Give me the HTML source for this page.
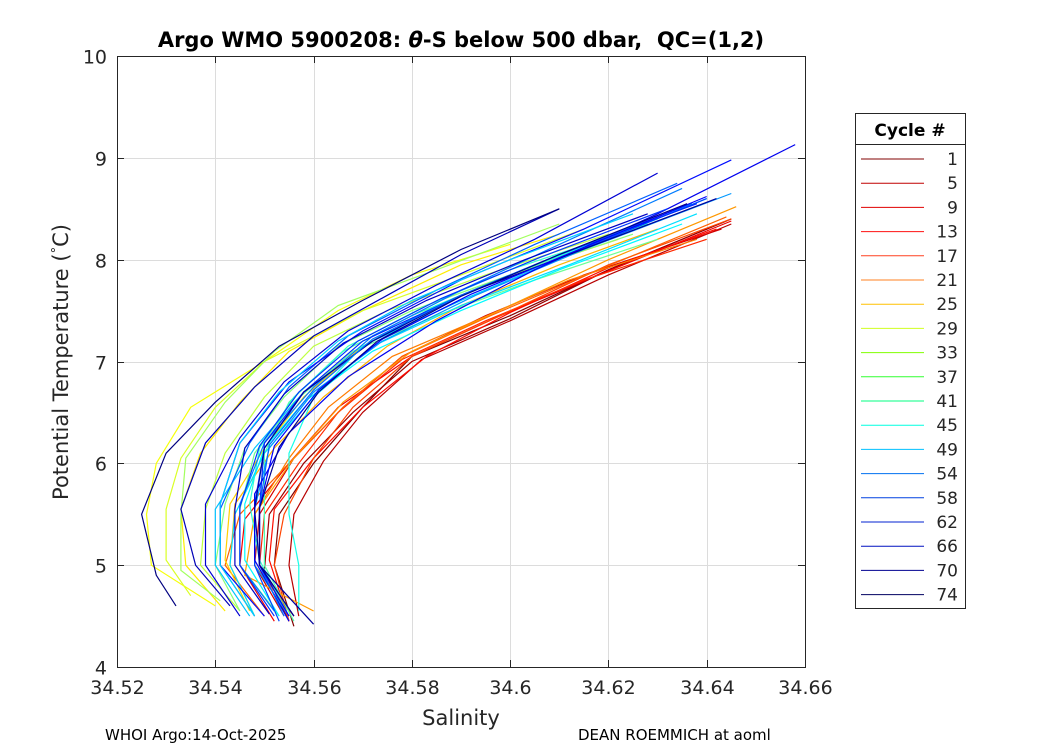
<!DOCTYPE html>
<html><head><meta charset="utf-8"><style>
body{margin:0;background:#fff;width:1050px;height:750px;overflow:hidden;font-family:"Liberation Sans",sans-serif}
</style></head><body>
<svg id="chart" width="1050" height="750" style="font-family:'DejaVu Sans','Liberation Sans',sans-serif">
<rect x="0" y="0" width="1050" height="750" fill="#fff"/>
<rect x="117" y="56" width="688" height="611" fill="#fff"/>
<g id="grid"></g>
<g id="lines"></g>
<g id="axes"></g>
<text x="461" y="47" font-size="21" font-weight="bold" text-anchor="middle">Argo WMO 5900208: <tspan font-style="italic">θ</tspan>-S below 500 dbar,&#160; QC=(1,2)</text>
<text x="461" y="725" font-size="21" text-anchor="middle" fill="#262626">Salinity</text>
<text transform="translate(68,362) rotate(-90)" font-size="21" text-anchor="middle" fill="#262626">Potential Temperature (<tspan baseline-shift="super" font-size="13">°</tspan>C)</text>
<text x="105" y="740" font-size="15">WHOI Argo:14-Oct-2025</text>
<text x="578" y="740" font-size="15">DEAN ROEMMICH at aoml</text>
<g id="legend">
<rect x="855.5" y="113.5" width="110" height="495" fill="#fff" stroke="#262626"/>
<line x1="855.5" y1="144.5" x2="965.5" y2="144.5" stroke="#262626"/>
<text x="910" y="136" font-size="17" font-weight="bold" text-anchor="middle">Cycle #</text>
</g>
</svg>
<script>
const xTicks=[34.52,34.54,34.56,34.58,34.6,34.62,34.64,34.66];
const yTicks=[4,5,6,7,8,9,10];
const legendCycles=[1,5,9,13,17,21,25,29,33,37,41,45,49,54,58,62,66,70,74];
const legendColors=["#800000","#c00000","#e00000","#ff1010","#ff4020","#ff8020","#ffc000","#d0ff20","#80ff00","#30ff30","#00ff80","#00ffe0","#00c0ff","#0070f0","#0040e0","#0020d0","#0010c0","#000090","#000060"];
const profCycles=[1,3,5,7,9,11,13,15,17,19,21,23,25,27,29,31,33,35,37,39,41,43,45,47,49,51,54,56,58,60,62,64,66,68,70,72,74,50,57,61,65,69,73];
const profSal=[
[34.645,34.62,34.60,34.58,34.57,34.56,34.553,34.552,34.556],
[34.644,34.62,34.60,34.58,34.568,34.558,34.551,34.55,34.555],
[34.645,34.62,34.60,34.582,34.57,34.562,34.556,34.555,34.557],
[34.643,34.615,34.595,34.578,34.566,34.556,34.549,34.548,34.554],
[34.645,34.618,34.598,34.58,34.565,34.555,34.546,34.545,34.552],
[34.642,34.62,34.60,34.583,34.57,34.56,34.552,34.551,34.555],
[34.64,34.615,34.595,34.578,34.565,34.557,34.55,34.549,34.556],
[34.645,34.62,34.598,34.58,34.568,34.56,34.554,34.552,34.555],
[34.644,34.618,34.596,34.578,34.566,34.555,34.545,34.542,34.55],
[34.638,34.612,34.593,34.576,34.563,34.555,34.548,34.548,34.556],
[34.646,34.62,34.60,34.58,34.566,34.556,34.548,34.546,34.56],
[34.63,34.61,34.59,34.575,34.562,34.552,34.544,34.543,34.548],
[34.622,34.60,34.585,34.57,34.558,34.55,34.543,34.542,34.547],
[34.61,34.59,34.57,34.555,34.545,34.537,34.533,34.534,34.542],
[34.60,34.58,34.565,34.55,34.535,34.528,34.526,34.527,34.54],
[34.615,34.59,34.57,34.55,34.54,34.533,34.53,34.53,34.535],
[34.62,34.595,34.575,34.56,34.55,34.542,34.538,34.537,34.545],
[34.61,34.585,34.565,34.552,34.542,34.534,34.533,34.533,34.541],
[34.625,34.60,34.58,34.565,34.554,34.546,34.542,34.54,34.545],
[34.63,34.605,34.585,34.568,34.556,34.548,34.545,34.545,34.553],
[34.625,34.60,34.58,34.566,34.555,34.55,34.55,34.55,34.556],
[34.628,34.60,34.583,34.567,34.556,34.549,34.547,34.549,34.555],
[34.63,34.605,34.585,34.57,34.56,34.555,34.555,34.557,34.557],
[34.635,34.61,34.59,34.572,34.558,34.55,34.546,34.546,34.553],
[34.638,34.612,34.59,34.572,34.56,34.55,34.544,34.543,34.548],
[34.64,34.612,34.59,34.572,34.558,34.548,34.54,34.54,34.547],
[34.645,34.615,34.593,34.574,34.56,34.551,34.548,34.548,34.555],
[34.635,34.61,34.59,34.572,34.56,34.55,34.545,34.545,34.552],
[34.634,34.605,34.585,34.567,34.555,34.547,34.541,34.541,34.548],
[34.64,34.612,34.59,34.572,34.558,34.55,34.548,34.548,34.553],
[34.638,34.61,34.59,34.57,34.558,34.55,34.549,34.549,34.556],
[34.645,34.615,34.59,34.57,34.555,34.545,34.541,34.541,34.55],
[34.658,34.63,34.605,34.585,34.567,34.555,34.548,34.548,34.555],
[34.63,34.605,34.585,34.567,34.554,34.545,34.538,34.538,34.545],
[34.61,34.59,34.575,34.56,34.548,34.538,34.533,34.536,34.543],
[34.642,34.612,34.59,34.572,34.558,34.55,34.548,34.549,34.56],
[34.61,34.59,34.57,34.553,34.54,34.53,34.525,34.528,34.532],
[34.625,34.60,34.58,34.565,34.553,34.545,34.541,34.541,34.548],
[34.637,34.61,34.59,34.572,34.56,34.551,34.549,34.549,34.554],
[34.632,34.606,34.586,34.569,34.557,34.549,34.545,34.545,34.552],
[34.64,34.613,34.592,34.574,34.561,34.552,34.549,34.549,34.555],
[34.628,34.603,34.583,34.566,34.554,34.546,34.544,34.544,34.551],
[34.636,34.61,34.59,34.573,34.561,34.553,34.549,34.549,34.556]];
const profTemp=[
[8.4,7.9,7.45,7.05,6.55,6.0,5.5,5.0,4.4],
[8.38,7.9,7.42,7.0,6.5,6.0,5.5,4.95,4.45],
[8.35,7.85,7.4,7.02,6.5,6.02,5.5,5.0,4.5],
[8.3,7.85,7.45,7.05,6.55,6.05,5.5,5.0,4.5],
[8.38,7.85,7.45,7.05,6.55,6.0,5.45,5.0,4.45],
[8.3,7.92,7.48,7.05,6.55,6.05,5.55,5.05,4.45],
[8.2,7.8,7.4,7.02,6.5,6.0,5.5,5.0,4.5],
[8.4,7.95,7.45,7.05,6.55,6.05,5.5,5.0,4.45],
[8.42,7.9,7.45,7.05,6.55,6.0,5.5,5.0,4.5],
[8.2,7.8,7.4,7.05,6.55,6.05,5.5,5.0,4.5],
[8.52,8.0,7.55,7.1,6.6,6.05,5.5,4.9,4.55],
[8.3,7.95,7.55,7.15,6.65,6.15,5.6,5.0,4.5],
[8.2,7.85,7.55,7.15,6.65,6.15,5.6,5.05,4.55],
[8.25,7.95,7.5,7.1,6.6,6.1,5.55,5.0,4.55],
[8.15,7.85,7.5,7.0,6.55,6.0,5.5,5.0,4.6],
[8.3,7.85,7.5,7.0,6.55,6.05,5.55,5.05,4.7],
[8.25,7.85,7.5,7.15,6.65,6.1,5.55,5.0,4.55],
[8.35,7.9,7.55,7.1,6.6,6.05,5.5,4.95,4.65],
[8.25,7.85,7.5,7.15,6.65,6.15,5.6,5.0,4.55],
[8.2,7.8,7.45,7.1,6.6,6.1,5.55,5.0,4.5],
[8.3,7.85,7.45,7.1,6.6,6.1,5.5,5.0,4.45],
[8.35,7.9,7.55,7.15,6.65,6.15,5.6,5.05,4.5],
[8.4,7.95,7.55,7.15,6.65,6.1,5.5,5.0,4.55],
[8.35,7.9,7.5,7.1,6.6,6.15,5.6,5.05,4.5],
[8.45,7.95,7.55,7.15,6.65,6.1,5.5,5.0,4.5],
[8.6,8.05,7.6,7.2,6.7,6.15,5.55,5.0,4.5],
[8.65,8.1,7.65,7.2,6.7,6.15,5.55,5.0,4.5],
[8.7,8.15,7.7,7.25,6.75,6.2,5.6,5.0,4.55],
[8.75,8.15,7.7,7.25,6.75,6.2,5.55,5.0,4.5],
[8.6,8.05,7.65,7.2,6.7,6.15,5.6,5.0,4.45],
[8.55,8.05,7.65,7.2,6.7,6.2,5.55,5.0,4.5],
[8.98,8.3,7.8,7.3,6.8,6.2,5.6,5.0,4.5],
[9.13,8.45,7.9,7.4,6.85,6.3,5.7,5.05,4.45],
[8.85,8.2,7.75,7.3,6.8,6.25,5.6,5.0,4.5],
[8.5,8.05,7.65,7.25,6.75,6.2,5.55,5.0,4.6],
[8.6,8.05,7.65,7.2,6.7,6.15,5.55,5.0,4.42],
[8.5,8.1,7.6,7.15,6.6,6.1,5.5,4.9,4.6],
[8.45,8.0,7.6,7.2,6.7,6.2,5.6,5.0,4.5],
[8.55,8.05,7.65,7.22,6.72,6.18,5.57,5.0,4.5],
[8.5,8.02,7.62,7.2,6.7,6.17,5.57,5.0,4.5],
[8.62,8.08,7.66,7.22,6.72,6.17,5.56,5.0,4.5],
[8.45,8.0,7.6,7.18,6.68,6.15,5.55,5.0,4.52],
[8.55,8.05,7.64,7.2,6.7,6.16,5.56,5.0,4.5]];
const S0=34.52,S1=34.66,T0=4,T1=10,X0=117,X1=805,Y0=667,Y1=56;
const xs=s=>X0+(s-S0)/(S1-S0)*(X1-X0);
const ys=t=>Y0-(t-T0)/(T1-T0)*(Y0-Y1);
function jet(c){const v=(c-1)/73;const f=x=>Math.round(255*Math.max(0,Math.min(1,x)));
return `rgb(${f(1.5-Math.abs(4*(1-v)-3))},${f(1.5-Math.abs(4*(1-v)-2))},${f(1.5-Math.abs(4*(1-v)-1))})`;}
const NS='http://www.w3.org/2000/svg';
function mk(tag,attrs,parent){const e=document.createElementNS(NS,tag);for(const k in attrs)e.setAttribute(k,attrs[k]);parent.appendChild(e);return e;}
const grid=document.getElementById('grid'),axes=document.getElementById('axes'),lines=document.getElementById('lines'),legend=document.getElementById('legend');
xTicks.forEach(v=>{const x=Math.round(xs(v))+0.5;
const g=mk('line',{x1:x,x2:x,y1:Y1,y2:Y0,stroke:'#dcdcdc'},grid);


const t=mk('text',{x:x,y:Y0+27,'font-size':19,'text-anchor':'middle',fill:'#262626'},axes);t.textContent=String(v);


mk('line',{x1:x,x2:x,y1:Y0,y2:Y0-7,stroke:'#262626'},axes);mk('line',{x1:x,x2:x,y1:Y1,y2:Y1+7,stroke:'#262626'},axes);});
yTicks.forEach(v=>{const y=Math.round(ys(v))+0.5;
const g=mk('line',{x1:X0,x2:X1,y1:y,y2:y,stroke:'#dcdcdc'},grid);


const t=mk('text',{x:X0-10,y:y+7,'font-size':19,'text-anchor':'end',fill:'#262626'},axes);t.textContent=String(v);


mk('line',{x1:X0,x2:X0+7,y1:y,y2:y,stroke:'#262626'},axes);mk('line',{x1:X1,x2:X1-7,y1:y,y2:y,stroke:'#262626'},axes);});
const box=mk('rect',{x:X0+0.5,y:Y1+0.5,width:X1-X0,height:Y0-Y1,fill:'none',stroke:'#262626'},axes);


profSal.forEach((sal,i)=>{const pts=sal.map((s,j)=>xs(s).toFixed(1)+','+ys(profTemp[i][j]).toFixed(1)).join(' ');
const p=mk('polyline',{points:pts,fill:'none',stroke:jet(profCycles[i]),'stroke-width':1.2},lines);

});
legendCycles.forEach((c,i)=>{const y=159+i*24.2;
const l=mk('line',{x1:861,x2:924,y1:y,y2:y,stroke:legendColors[i],'stroke-width':1},legend);


const t=mk('text',{x:958,y:y+6,'font-size':17,'text-anchor':'end',fill:'#262626'},legend);t.textContent=String(c);

});
</script>
</body></html>
